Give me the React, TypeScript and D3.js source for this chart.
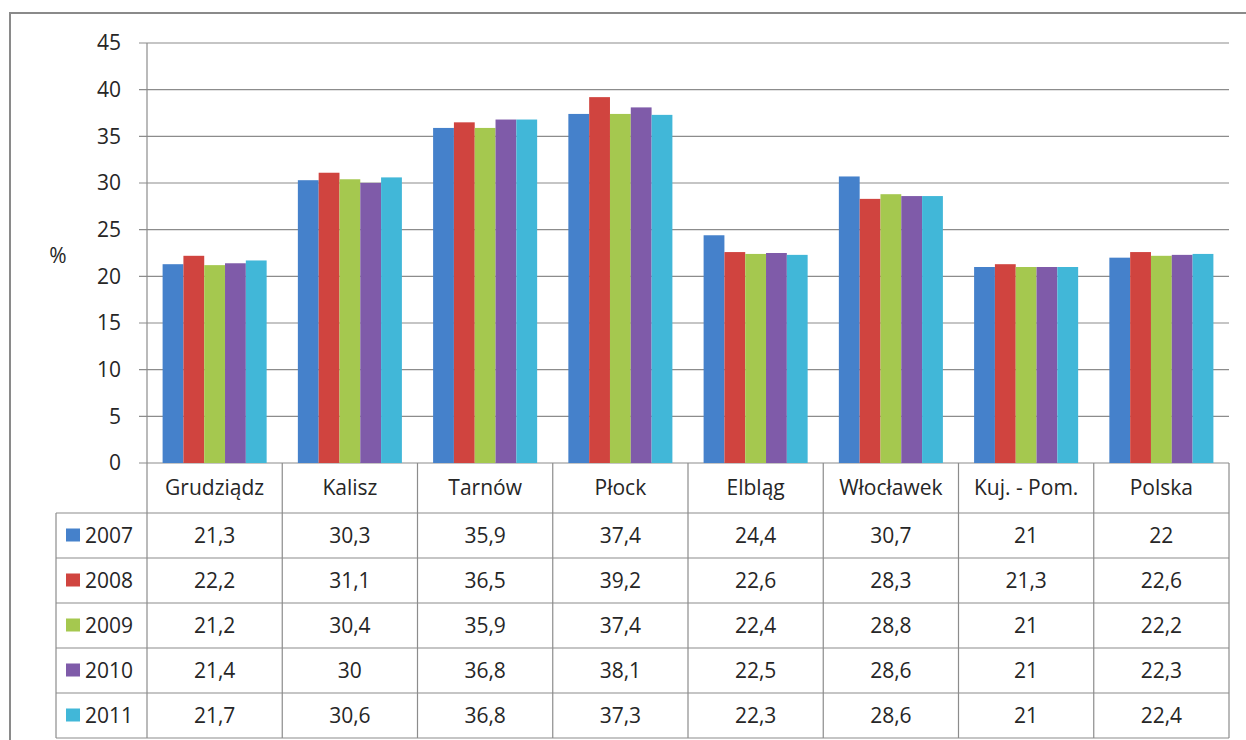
import React from "react";
import * as d3 from "d3";

const categories = ["Grudziądz", "Kalisz", "Tarnów", "Płock", "Elbląg", "Włocławek", "Kuj. - Pom.", "Polska"];
const years = ["2007", "2008", "2009", "2010", "2011"];
const v2007 = [21.3, 30.3, 35.9, 37.4, 24.4, 30.7, 21, 22];
const v2008 = [22.2, 31.1, 36.5, 39.2, 22.6, 28.3, 21.3, 22.6];
const v2009 = [21.2, 30.4, 35.9, 37.4, 22.4, 28.8, 21, 22.2];
const v2010 = [21.4, 30, 36.8, 38.1, 22.5, 28.6, 21, 22.3];
const v2011 = [21.7, 30.6, 36.8, 37.3, 22.3, 28.6, 21, 22.4];
const series = [v2007, v2008, v2009, v2010, v2011];
const colors = ["#4581CB", "#D0443F", "#A5C84F", "#7F5BA9", "#41B7D8"];
const yTicks = [0, 5, 10, 15, 20, 25, 30, 35, 40, 45];

const fmt = (v: number) => String(v).replace(".", ",");

export default function App() {
  const W = 1246, H = 740;
  const left = 147, right = 1229, top = 43, bottom = 463;
  const x = d3.scaleBand<string>().domain(categories).range([left, right]);
  const y = d3.scaleLinear().domain([0, 45]).range([bottom, top]);
  const bw = x.bandwidth();
  const groupW = bw / (5 + 1.5) * 5;
  const inner = d3.scaleBand<string>().domain(years).range([0, groupW]);
  const headerH = 50;
  const rowH = 45;
  const tableLeft = 56;
  const rowTop = (i: number) => bottom + headerH + i * rowH;
  const tableBottom = rowTop(5);
  const font = "'Open Sans', sans-serif";
  const gridC = "#8c8c8c";
  const txt = "#262626";
  const fs = 21;
  return (
    <svg width={W} height={H} style={{ position: "absolute", left: 0, top: 0 }} fontFamily={font}>
      <rect x={0} y={0} width={W} height={H} fill="#fff" />
      <rect x={10} y={13} width={W} height={H} fill="none" stroke="#8a8a8a" strokeWidth={2} />
      {yTicks.map((t) => (
        <g key={t}>
          <line x1={139} x2={right} y1={y(t)} y2={y(t)} stroke={gridC} strokeWidth={1.2} />
          <text x={121} y={y(t)} dy="0.35em" textAnchor="end" fontSize={fs} fill={txt}>{t}</text>
        </g>
      ))}
      <line x1={left} x2={left} y1={top} y2={tableBottom} stroke={gridC} strokeWidth={1.2} />
      <text x={58} y={256} textAnchor="middle" dy="0.35em" fontSize={fs} fill={txt}>%</text>
      {categories.map((c, ci) => (
        <g key={c}>
          {series.map((s, si) => (
            <rect key={si}
              x={(x(c) as number) + (bw - groupW) / 2 + (inner(years[si]) as number)}
              y={y(s[ci])}
              width={inner.bandwidth()}
              height={bottom - y(s[ci])}
              fill={colors[si]} />
          ))}
        </g>
      ))}
      {categories.map((c, ci) => (
        <g key={"t" + c}>
          <line x1={(x(c) as number) + bw} x2={(x(c) as number) + bw} y1={bottom} y2={tableBottom} stroke={gridC} strokeWidth={1.2} />
          <text x={(x(c) as number) + bw / 2} y={bottom + headerH / 2} dy="0.35em" textAnchor="middle" fontSize={fs} fill={txt}>{c}</text>
          {series.map((s, si) => (
            <text key={si} x={(x(c) as number) + bw / 2} y={rowTop(si) + rowH / 2} dy="0.35em" textAnchor="middle" fontSize={fs} fill={txt}>{fmt(s[ci])}</text>
          ))}
        </g>
      ))}
      {years.map((yr, i) => (
        <g key={yr}>
          <line x1={tableLeft} x2={right} y1={rowTop(i)} y2={rowTop(i)} stroke={gridC} strokeWidth={1.2} />
          <rect x={66} y={rowTop(i) + rowH / 2 - 7} width={14} height={13} fill={colors[i]} />
          <text x={85} y={rowTop(i) + rowH / 2} dy="0.35em" fontSize={fs} fill={txt}>{yr}</text>
        </g>
      ))}
      <line x1={tableLeft} x2={right} y1={tableBottom} y2={tableBottom} stroke={gridC} strokeWidth={1.2} />
      <line x1={tableLeft} x2={tableLeft} y1={rowTop(0)} y2={tableBottom} stroke={gridC} strokeWidth={1.2} />
    </svg>
  );
}
